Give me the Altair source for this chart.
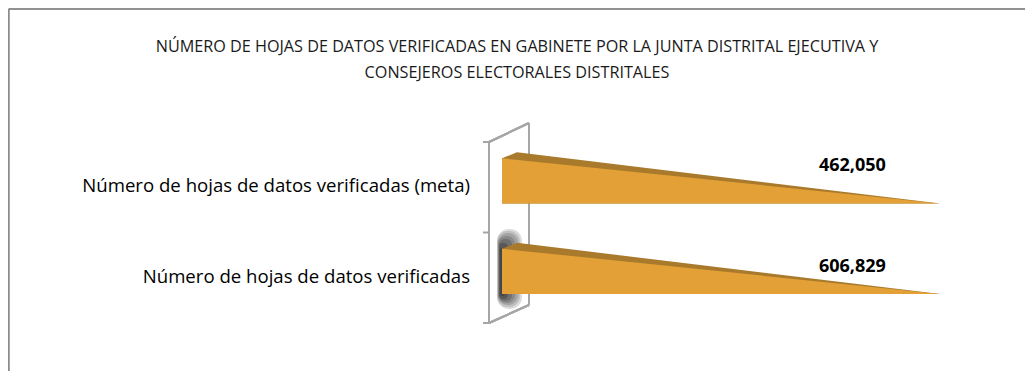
import altair as alt
import pandas as pd

# ---- data ----
categories = [
    "Número de hojas de datos verificadas (meta)",
    "Número de hojas de datos verificadas",
]
values = [462050, 606829]
bar_length_pct = [100, 100]  # both bars are drawn at full length in the original
title_lines = [
    "NÚMERO DE HOJAS DE DATOS VERIFICADAS EN GABINETE POR LA JUNTA DISTRITAL EJECUTIVA Y",
    "CONSEJEROS ELECTORALES DISTRITALES",
]

# ---- geometry / style constants ----
CENTER = 0.43
HALF = 0.25
DEPTH_X = 3.4
DEPTH_Y = 0.066
FRONT = "#E2A037"
TOPFACE = "#A97A2B"
WALL = "#A6A6A6"
FONT = "Open Sans"

front_rows, top_rows, label_rows = [], [], []
for i, (cat, v, p) in enumerate(zip(categories, values, bar_length_pct)):
    c = i + CENTER
    front_rows += [
        dict(cat=cat, x=0, y=c - HALF, y2=c + HALF),
        dict(cat=cat, x=p, y=c + HALF, y2=c + HALF),
    ]
    top_rows += [
        dict(cat=cat, x=0, y=c - HALF, y2=c + HALF),
        dict(cat=cat, x=DEPTH_X, y=c - HALF - DEPTH_Y, y2=c + HALF),
        dict(cat=cat, x=p, y=c + HALF, y2=c + HALF),
    ]
    label_rows.append(dict(cat=cat, idx=i, value=f"{v:,}", x=p * 0.8,
                           ytop=c - HALF, ymid=c + 0.06))

front_df = pd.DataFrame(front_rows)
top_df = pd.DataFrame(top_rows)
lab_df = pd.DataFrame(label_rows)

xs = alt.Scale(domain=[0, 100], range=[494, 932], zero=False, nice=False)
ys = alt.Scale(domain=[0, 2], range=[134, 315], zero=False, nice=False)

X = lambda f: alt.X(f, scale=xs, axis=None)
Y = lambda f: alt.Y(f, scale=ys, axis=None)

# outer frame (left and top edges)
frame_l = alt.Chart(lab_df).mark_rule(color="#8C8C8C", strokeWidth=1.5).encode(
    x=alt.value(0.75), y=alt.value(1), y2=alt.value(363))
frame_t = alt.Chart(lab_df).mark_rule(color="#8C8C8C", strokeWidth=1.5).encode(
    x=alt.value(0.75), x2=alt.value(1017), y=alt.value(1))

# 3D wall
tick_df = pd.DataFrame({"t": [0, 1, 2]})
wall_left = alt.Chart(tick_df).mark_rule(color=WALL, strokeWidth=2).encode(
    x=alt.value(481), y=alt.value(134), y2=alt.value(315))
wall_ticks = alt.Chart(tick_df).mark_rule(color=WALL, strokeWidth=2).encode(
    x=alt.value(475), x2=alt.value(481), y=Y("t:Q"))
wall_back = alt.Chart(tick_df).mark_rule(color=WALL, strokeWidth=2).encode(
    x=alt.value(521), y=alt.value(115), y2=alt.value(297))
wall_top = alt.Chart(tick_df).mark_rule(color=WALL, strokeWidth=2).encode(
    x=alt.value(481), x2=alt.value(521), y=alt.value(134), y2=alt.value(115))
wall_bot = alt.Chart(tick_df).mark_rule(color=WALL, strokeWidth=2).encode(
    x=alt.value(481), x2=alt.value(521), y=alt.value(315), y2=alt.value(297))

# soft shadow behind the second bar
shadow_boxes = [
    (489, 514, 221, 301, 12, 0.06),
    (489, 512, 223, 299, 11, 0.06),
    (490, 510, 225, 297, 10, 0.07),
    (490, 507, 228, 295, 8, 0.08),
    (491, 504, 231, 293, 6, 0.10),
    (491, 500, 235, 291, 4, 0.14),
    (492, 497, 240, 288, 3, 0.18),
]
shadow = alt.layer(*[
    alt.Chart(tick_df).mark_rect(color="#333333", opacity=op, cornerRadius=r).encode(
        x=alt.value(x1), x2=alt.value(x2), y=alt.value(y1), y2=alt.value(y2))
    for (x1, x2, y1, y2, r, op) in shadow_boxes
])

top_face = alt.Chart(top_df).mark_area(color=TOPFACE, orient="vertical").encode(
    x=X("x:Q"), y=Y("y:Q"), y2="y2:Q", detail="cat:N")
front_face = alt.Chart(front_df).mark_area(color=FRONT, orient="vertical").encode(
    x=X("x:Q"), y=Y("y:Q"), y2="y2:Q", detail="cat:N")

val1 = alt.Chart(lab_df).transform_filter("datum.idx == 0").mark_text(
    font=FONT, fontSize=18, fontWeight="bold", color="#000000", dy=8, baseline="middle"
).encode(x=X("x:Q"), y=Y("ytop:Q"), text="value:N")
val2 = alt.Chart(lab_df).transform_filter("datum.idx == 1").mark_text(
    font=FONT, fontSize=18, fontWeight="bold", color="#000000", dy=18, baseline="middle"
).encode(x=X("x:Q"), y=Y("ytop:Q"), text="value:N")

cat_labels = alt.Chart(lab_df).mark_text(
    font=FONT, fontSize=18.6, color="#000000", align="right", baseline="middle"
).encode(x=alt.value(462), y=Y("ymid:Q"), text="cat:N")

title_df = pd.DataFrame({"line": title_lines, "n": [0, 1]})
title1 = alt.Chart(title_df).transform_filter("datum.n == 0").mark_text(
    font=FONT, fontSize=16.2, color="#1a1a1a", align="center", baseline="middle"
).encode(x=alt.value(509), y=alt.value(39), text="line:N")
title2 = alt.Chart(title_df).transform_filter("datum.n == 1").mark_text(
    font=FONT, fontSize=16.2, color="#1a1a1a", align="center", baseline="middle"
).encode(x=alt.value(509), y=alt.value(65), text="line:N")

chart = alt.layer(
    frame_l, frame_t, shadow, wall_left, wall_ticks, wall_back, wall_top, wall_bot,
    top_face, front_face, val1, val2, cat_labels, title1, title2
).properties(
    width=1017, height=363, padding=0, autosize=alt.AutoSizeParams(type="none")
).configure_view(stroke=None).configure(background="white")

chart.save("out.html", embed_options={"renderer": "svg", "actions": False})
